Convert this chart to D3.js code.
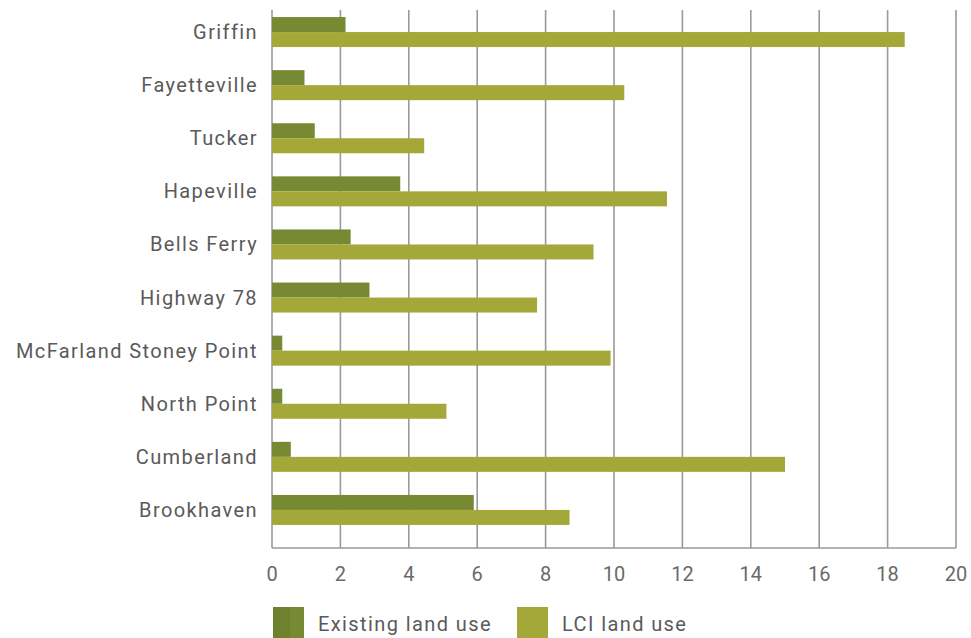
<!DOCTYPE html>
<html><head><meta charset="utf-8">
<script src="https://cdn.jsdelivr.net/npm/d3@7/dist/d3.min.js"></script>
<style>body{margin:0;background:#fff}svg{display:block}</style>
</head><body><svg id="c" width="971" height="638"></svg>
<script>
const categories = ["Griffin","Fayetteville","Tucker","Hapeville","Bells Ferry","Highway 78","McFarland Stoney Point","North Point","Cumberland","Brookhaven"];
const existing = [2.15,0.95,1.25,3.75,2.3,2.85,0.3,0.3,0.55,5.9];
const lci = [18.5,10.3,4.45,11.55,9.4,7.75,9.9,5.1,15.0,8.7];
const xTicks = [0,2,4,6,8,10,12,14,16,18,20];
const seriesNames = ["Existing land use","LCI land use"];
const colors = ["#778a33","#a3a838"];

const svg = d3.select("#c");
const x = d3.scaleLinear().domain([0,20]).range([272,956]);
const y = d3.scaleBand().domain(categories).range([5.5,536.5]).paddingInner(0.435).paddingOuter(0.2175);
const gridTop = 10, gridBottom = 548;
const font = "Roboto, sans-serif";

// gridlines
svg.append("g").selectAll("line").data(xTicks).join("line")
  .attr("x1",d=>x(d)).attr("x2",d=>x(d)).attr("y1",gridTop).attr("y2",gridBottom)
  .attr("stroke","#9a9a9a").attr("stroke-width",1.6);
// bottom axis line
svg.append("line").attr("x1",x(0)).attr("x2",x(20)).attr("y1",gridBottom).attr("y2",gridBottom)
  .attr("stroke","#9a9a9a").attr("stroke-width",1.6);

const bh = y.bandwidth()/2;
const g = svg.append("g");
g.selectAll("rect.e").data(categories).join("rect").attr("class","e")
  .attr("x",x(0)).attr("y",d=>y(d)).attr("height",bh)
  .attr("width",(d,i)=>x(existing[i])-x(0)).attr("fill",colors[0]);
g.selectAll("rect.l").data(categories).join("rect").attr("class","l")
  .attr("x",x(0)).attr("y",d=>y(d)+bh).attr("height",bh)
  .attr("width",(d,i)=>x(lci[i])-x(0)).attr("fill",colors[1]);

// category labels
svg.append("g").selectAll("text").data(categories).join("text")
  .attr("x",258).attr("y",d=>y(d)+y.bandwidth()/2).attr("dy","0.35em")
  .attr("text-anchor","end").attr("font-family",font).attr("font-size",20)
  .attr("letter-spacing","1.4px").attr("fill","#5a5a5a").text(d=>d);

// tick labels
svg.append("g").selectAll("text").data(xTicks).join("text")
  .attr("x",d=>x(d)).attr("y",574).attr("dy","0.35em").attr("text-anchor","middle")
  .attr("font-family",font).attr("font-size",20).attr("fill","#6a6a6a").text(d=>d);

// legend
const lg = svg.append("g");
const lx = [273,517];
seriesNames.forEach((s,i)=>{
  lg.append("rect").attr("x",lx[i]).attr("y",607).attr("width",31).attr("height",31).attr("fill",colors[i]);
  if(i===0) lg.append("rect").attr("x",lx[i]).attr("y",607).attr("width",17).attr("height",31)
    .attr("fill",colors[i]).attr("opacity",0.9).style("filter","brightness(0.93)");
  lg.append("text").attr("x",lx[i]+45).attr("y",624).attr("dy","0.35em")
    .attr("font-family",font).attr("font-size",20).attr("letter-spacing","1.4px")
    .attr("fill","#5a5a5a").text(s);
});
</script></body></html>
